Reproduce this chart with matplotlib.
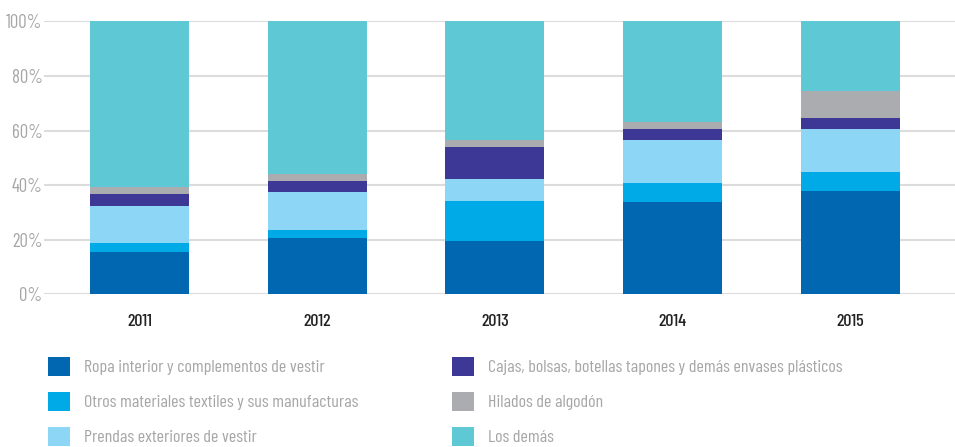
import matplotlib
matplotlib.use('Agg')
import matplotlib.pyplot as plt
import numpy as np
from matplotlib.patches import Patch

plt.rcParams['font.family'] = ['Barlow Condensed', 'DejaVu Sans']

years = ['2011', '2012', '2013', '2014', '2015']
series = ['Ropa interior y complementos de vestir',
          'Otros materiales textiles y sus manufacturas',
          'Prendas exteriores de vestir',
          'Cajas, bolsas, botellas tapones y demás envases plásticos',
          'Hilados de algodón',
          'Los demás']
ropa = [15.5, 20.6, 19.5, 33.8, 37.8]
otros = [3.3, 2.9, 14.7, 7.0, 7.0]
prendas = [13.5, 14.0, 8.0, 15.7, 15.7]
cajas = [4.4, 4.0, 11.8, 4.0, 4.1]
hilados = [2.5, 2.7, 2.6, 2.7, 9.9]
demas = [60.8, 55.8, 43.4, 36.8, 25.5]
colors = ['#0267b1', '#00aae7', '#8ed6f6', '#3d3896', '#abacaf', '#5fc8d5']

values = [ropa, otros, prendas, cajas, hilados, demas]

fig = plt.figure(figsize=(9.55, 4.47), dpi=100)
ax = fig.add_axes([44 / 955, 1 - 294.3 / 447, 1 - 44 / 955, 273 / 447])

x = np.arange(len(years))
bottom = np.zeros(len(years))
for vals, c in zip(values, colors):
    ax.bar(x, vals, 0.557, bottom=bottom, color=c, zorder=3)
    bottom += np.array(vals)

ax.set_xlim(-0.537, 4.588)
ax.set_ylim(0, 100)
ax.set_yticks([0, 20, 40, 60, 80, 100])
ax.set_yticklabels([f'{v}%' for v in [0, 20, 40, 60, 80, 100]],
                   color='#a6a6a6', fontsize=13.5)
ax.set_xticks(x)
ax.set_xticklabels(years, fontsize=13, color='#222222', fontweight='medium')
ax.tick_params(axis='y', length=0, pad=1)
ax.tick_params(axis='x', length=0, pad=14)
ax.grid(axis='y', color='#dcdcdc', lw=1.5, zorder=0)
ax.set_axisbelow(True)
for s in ax.spines.values():
    s.set_visible(False)

handles = [Patch(facecolor=c, edgecolor='none') for c in colors]
kw = dict(frameon=False, loc='upper left', borderpad=0, borderaxespad=0,
          handlelength=1.22, handleheight=1.22, labelspacing=0.9,
          handletextpad=0.78, prop={'size': 13}, labelcolor='#a6a6a6')
leg1 = fig.legend(handles[:3], series[:3], bbox_to_anchor=(48 / 955, 1 - 357 / 447), **kw)
leg2 = fig.legend(handles[3:], series[3:], bbox_to_anchor=(452 / 955, 1 - 357 / 447), **kw)

fig.savefig('out.png', dpi=100)
